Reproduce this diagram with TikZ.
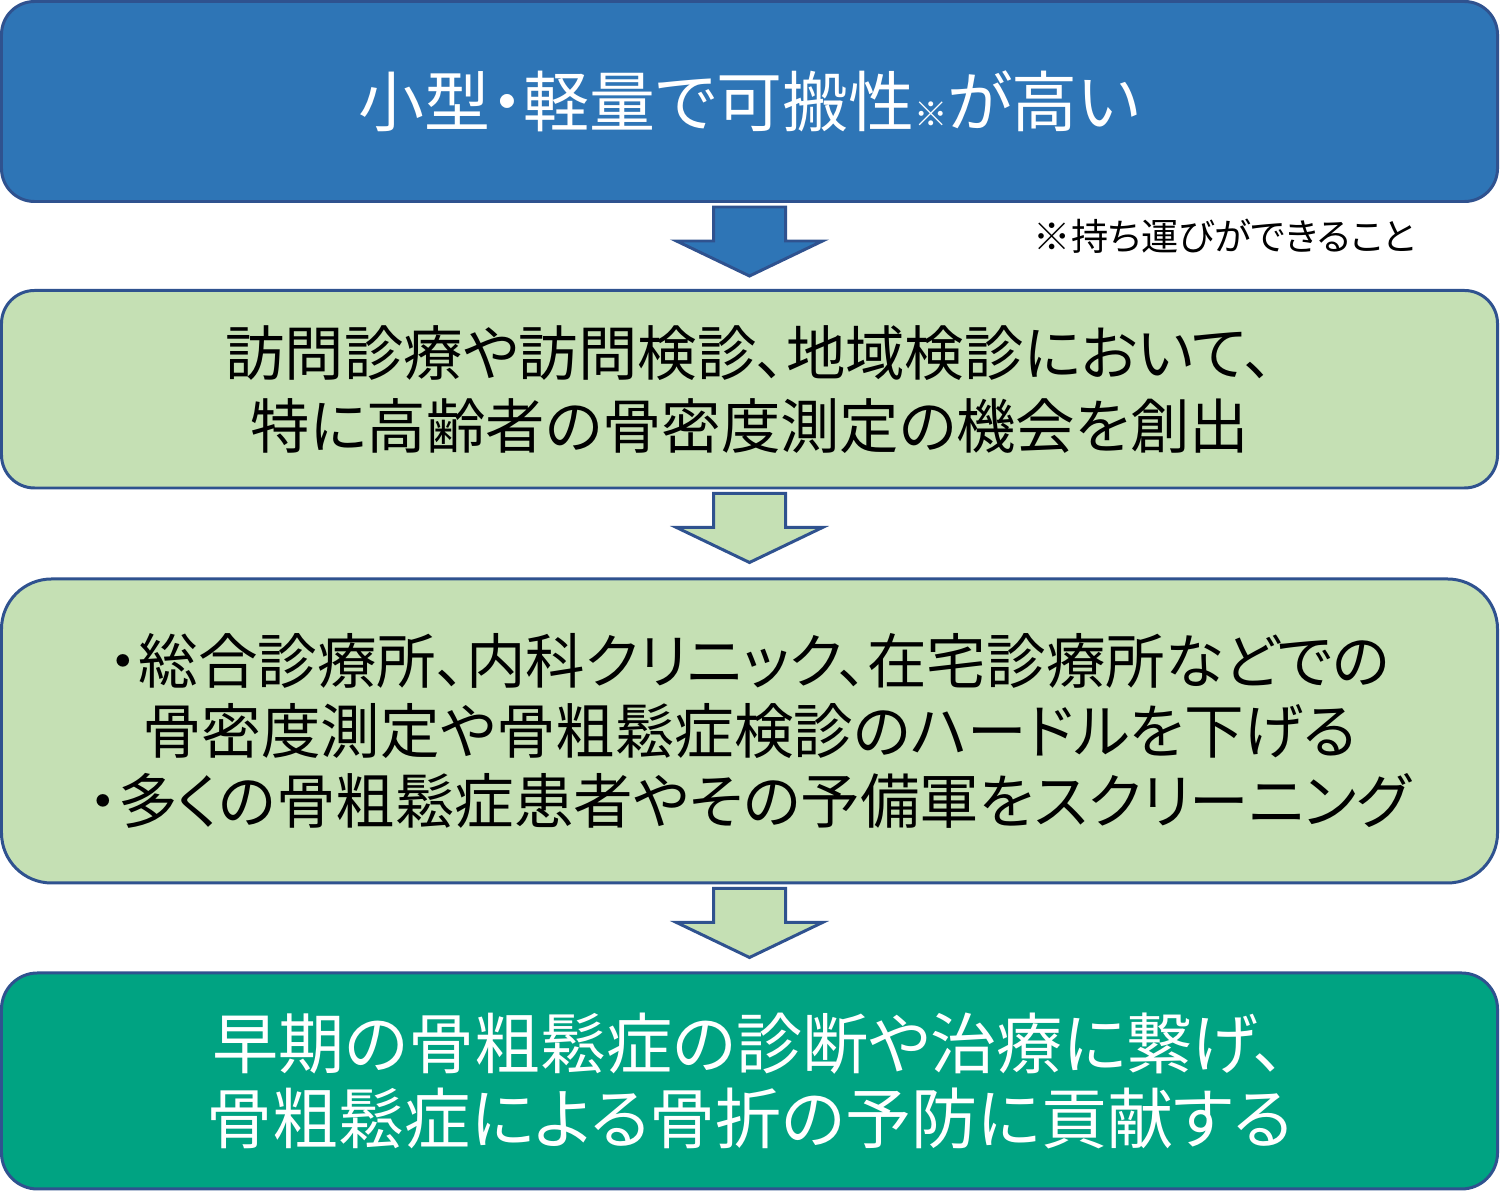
\documentclass[tikz,border=0pt]{standalone}
\usepackage{fontspec}
\setmainfont{Noto Sans CJK JP}[RawFeature=+palt]
\usetikzlibrary{positioning, calc}
\definecolor{topBlue}{RGB}{46,117,182}
\definecolor{edgeBlue}{RGB}{47,82,143}
\definecolor{lightGreen}{RGB}{197,224,180}
\definecolor{deepGreen}{RGB}{0,163,130}
\tikzstyle{box} = [rectangle, minimum width=29.92cm, text centered, align=center, draw=edgeBlue, line width=1.7pt, inner sep=0pt]
\tikzstyle{flow} = [draw=edgeBlue, line width=1.7pt, line join=miter]
\newcommand{\flowarrow}[2]{%
  \draw[flow, fill=#2] ($(#1.south)+(-0.72,-0.08)$) -- ++(0,-0.68) -- ++(-0.74,0)
    -- ++(1.46,-0.70) -- ++(1.46,0.70) -- ++(-0.74,0) -- ++(0,0.68) -- cycle;}

\begin{document}
\begin{tikzpicture}
			\useasboundingbox (0,0) rectangle (30,-23.96);
			\node (light) [box, fill=topBlue, text=white, minimum height=4cm, rounded corners=0.66cm, font=\fontsize{37.5}{44}\selectfont] at (14.99,-2.03) {小型・軽量で可搬性{\fontsize{19}{20}\selectfont ※}が高い};
			\node (carry) [anchor=east, inner sep=0pt, font=\fontsize{21.2}{25}\selectfont] at ($(light.south east)+(-1.66,-0.66)$) {※持ち運びができること};
			\node (chance) [box, fill=lightGreen, minimum height=3.95cm, rounded corners=0.66cm, font=\fontsize{33.8}{41.5}\selectfont, below=1.72cm of light] {訪問診療や訪問検診、地域検診において、\\特に高齢者の骨密度測定の機会を創出};
			\node (screen) [box, fill=lightGreen, minimum height=6.08cm, rounded corners=1cm, font=\fontsize{33.9}{39.7}\selectfont, below=1.76cm of chance] {・総合診療所、内科クリニック、在宅診療所などでの\\骨密度測定や骨粗鬆症検診のハードルを下げる\\・多くの骨粗鬆症患者やその予備軍をスクリーニング};
			\node (prevent) [box, fill=deepGreen, text=white, minimum height=4.32cm, rounded corners=0.72cm, font=\fontsize{37.6}{42.5}\selectfont, below=1.74cm of screen] {早期の骨粗鬆症の診断や治療に繋げ、\\骨粗鬆症による骨折の予防に貢献する};
			
			\flowarrow{light}{topBlue}
			\flowarrow{chance}{lightGreen}
			\flowarrow{screen}{lightGreen}
\end{tikzpicture}
\end{document}
